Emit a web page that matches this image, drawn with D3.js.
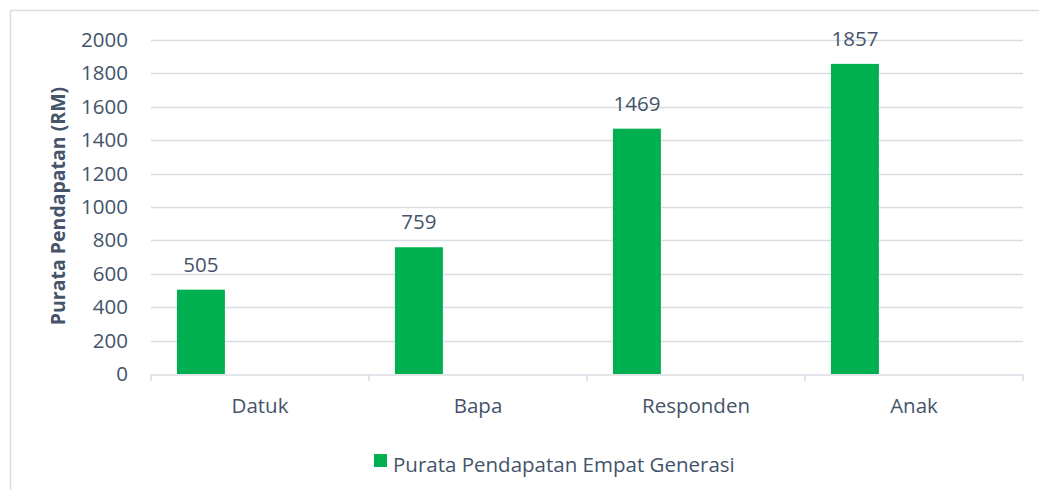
<!DOCTYPE html>
<html>
<head>
<meta charset="UTF-8">
<title>Purata Pendapatan</title>
<script src="https://d3js.org/d3.v7.min.js"></script>
<style>
  body { margin: 0; background: #fff; }
  svg text { font-family: "Open Sans", sans-serif; fill: #44546a; }
</style>
</head>
<body>
<svg width="1039" height="490"></svg>
<script>
// chart data
const categories = ["Datuk", "Bapa", "Responden", "Anak"];
const values = [505, 759, 1469, 1857];
const seriesName = "Purata Pendapatan Empat Generasi";
const yTicks = [0, 200, 400, 600, 800, 1000, 1200, 1400, 1600, 1800, 2000];

const svg = d3.select("svg");
const green = "#00b050";
const grid = "#d9dde3";

// outer frame (runs off right/bottom like the original)
svg.append("rect")
  .attr("x", 10.5).attr("y", 10.5)
  .attr("width", 1100).attr("height", 600)
  .attr("fill", "none").attr("stroke", grid).attr("stroke-width", 1.5);

const plotL = 151, plotR = 1023, plotT = 40, plotB = 374;

var x = d3.scaleBand().domain(categories).range([plotL, plotR]).padding(0);
var y = d3.scaleLinear().domain([0, 2000]).range([plotB, plotT]);

// gridlines
svg.append("g").selectAll("line").data(yTicks.filter(d => d > 0))
  .enter().append("line")
  .attr("x1", plotL).attr("x2", plotR)
  .attr("y1", d => Math.round(y(d)) + 0.5).attr("y2", d => Math.round(y(d)) + 0.5)
  .attr("stroke", grid).attr("stroke-width", 1.5);

// y tick labels
svg.append("g").selectAll("text").data(yTicks)
  .enter().append("text")
  .attr("x", 128).attr("y", d => y(d) + 7)
  .attr("text-anchor", "end")
  .style("font-size", "20.5px")
  .text(d => d);

// x axis line + ticks
var x_axis = d3.axisBottom(x).tickSize(0).tickFormat("");
var gx = svg.append("g").attr("transform", "translate(0," + (plotB + 0.5) + ")").call(x_axis);
gx.select(".domain").attr("stroke", grid).attr("stroke-width", 1.5);
var bounds = categories.map(c => x(c)).concat([plotR]);
svg.append("g").selectAll("line").data(bounds)
  .enter().append("line")
  .attr("x1", d => d).attr("x2", d => d)
  .attr("y1", plotB).attr("y2", plotB + 7)
  .attr("stroke", grid).attr("stroke-width", 1.5);

// category labels
svg.append("g").selectAll("text").data(categories)
  .enter().append("text")
  .attr("x", d => x(d) + x.bandwidth() / 2)
  .attr("y", 413)
  .attr("text-anchor", "middle")
  .style("font-size", "20.5px")
  .text(d => d);

// bars
var bw = x.bandwidth();
svg.append("g").selectAll("rect").data(values)
  .enter().append("rect")
  .attr("x", (d, i) => x(categories[i]) + bw * 0.119)
  .attr("width", bw * 0.22)
  .attr("y", d => y(d))
  .attr("height", d => plotB - y(d))
  .attr("fill", green);

// value labels
svg.append("g").selectAll("text").data(values)
  .enter().append("text")
  .attr("x", (d, i) => x(categories[i]) + bw * 0.119 + bw * 0.11)
  .attr("y", d => y(d) - 18)
  .attr("text-anchor", "middle")
  .style("font-size", "20.5px")
  .text(d => d);

// y axis title
svg.append("text")
  .attr("transform", "translate(65,206) rotate(-90)")
  .attr("text-anchor", "middle")
  .style("font-size", "19.5px")
  .style("font-weight", "bold")
  .text("Purata Pendapatan (RM)");

// legend
svg.append("rect")
  .attr("x", 374).attr("y", 454).attr("width", 13).attr("height", 13)
  .attr("fill", green);
svg.append("text")
  .attr("x", 393).attr("y", 472)
  .style("font-size", "20.5px")
  .text(seriesName);
</script>
</body>
</html>
